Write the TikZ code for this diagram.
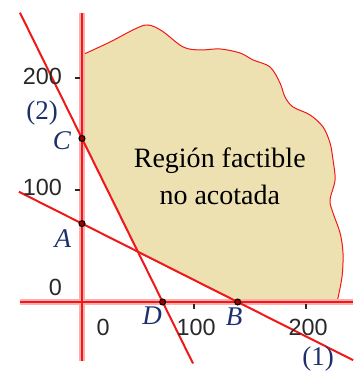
\documentclass[tikz,border=0pt]{standalone}
\usepackage{fontspec}
\setmainfont{Liberation Serif}
\newfontfamily\ticksans{Liberation Sans}
\definecolor{feasible}{RGB}{237,224,177}
\definecolor{labelblue}{RGB}{28,48,110}
\definecolor{ticktext}{RGB}{40,40,40}
\definecolor{linered}{RGB}{240,24,24}

\begin{document}
\begin{tikzpicture}[x=0.56pt,y=0.56pt,
  axishalo/.style={linered!35, line width=2.6pt},
  axisline/.style={linered, line width=1.2pt},
  constraint/.style={linered, line width=1pt},
  tickmark/.style={ticktext, line width=0.8pt},
  ticklabel/.style={font=\ticksans\fontsize{11.7}{14}\selectfont, text=ticktext, inner sep=0pt},
  vertexdot/.style={circle, draw=black, fill=red!60!black, line width=0.5pt, minimum size=3pt, inner sep=0pt},
  vertexlabel/.style={font=\itshape\fontsize{13.5}{16}\selectfont, text=labelblue, inner sep=0pt},
  linelabel/.style={font=\fontsize{13.5}{16}\selectfont, text=labelblue, inner sep=0pt}]
\useasboundingbox (-73.2,-61.6) rectangle (242,269.6);
\coordinate (O) at (0,0);
\coordinate (A) at (0,70);
\coordinate (B) at (139,0);
\coordinate (C) at (0,146);
\coordinate (D) at (72,0);
\coordinate (I) at (intersection of A--B and C--D);
\coordinate (xs) at (-55.4,0);
\coordinate (xe) at (242,0);
\coordinate (ys) at (0,-52.7);
\coordinate (ye) at (0,258);
\coordinate (l1s) at (-56.3,98.4);
\coordinate (l1e) at (242,-51.9);
\coordinate (l2s) at (-55.4,258.3);
\coordinate (l2e) at (99.1,-54.9);

\filldraw[fill=feasible, draw=linered, line width=0.5pt]
  plot[smooth, tension=0.55] coordinates {(0,220.5) (25,232.1) (47.3,243.75) (58.9,247.3)
    (71.4,242) (90.2,227.7) (105.4,225) (123.2,225.9) (141.1,222.3) (152.7,216.1)
    (167.9,209.8) (176.8,195.5) (181.25,183) (188.4,174.1) (203.6,167) (215.2,156.25)
    (221.4,142) (224.1,126.8) (225.9,108.9) (221.4,91.1) (224.1,79.5) (230.4,61.6)
    (233,43.75) (232.1,22.3) (227.7,0)}
  -- (B) -- (I) -- (C) -- cycle;

\draw[axishalo] (xs) -- (xe);
\draw[axishalo] (ys) -- (ye);
\draw[axisline] (xs) -- (xe);
\draw[axisline] (ys) -- (ye);

\draw[tickmark] (-6.5,100) -- (-1.5,100);
\draw[tickmark] (-6.5,200) -- (-1.5,200);
\draw[tickmark] (100,-1.5) -- (100,-6.5);
\draw[tickmark] (200,-1.5) -- (200,-6.5);

\draw[constraint] (l1s) -- (l1e);
\draw[constraint] (l2s) -- (l2e);

\node[ticklabel, anchor=east] (y200) at (-17.5,201) {200};
\node[ticklabel, anchor=east] (y100) at (-17.5,102) {100};
\node[ticklabel, anchor=east] (y0) at (-17.5,13.4) {0};
\node[ticklabel] (x0) at (18.8,-23) {0};
\node[ticklabel] (x100) at (101.8,-23) {100};
\node[ticklabel] (x200) at (201.8,-23) {200};

\node[vertexdot] (pA) at (A) {};
\node[vertexdot] (pB) at (B) {};
\node[vertexdot] (pC) at (C) {};
\node[vertexdot] (pD) at (D) {};

\node[vertexlabel] (lA) at (-17,57) {A};
\node[vertexlabel] (lB) at (135.7,-13.4) {B};
\node[vertexlabel] (lC) at (-17.9,143.8) {C};
\node[vertexlabel] (lD) at (62.5,-12.5) {D};
\node[linelabel] (l2) at (-35.7,168.8) {(2)};
\node[linelabel] (l1) at (210.7,-50.9) {(1)};

\node[align=center, font=\fontsize{14}{18.5}\selectfont, inner sep=0pt] (region) at (123,112) {Región factible\\no acotada};
\end{tikzpicture}
\end{document}
